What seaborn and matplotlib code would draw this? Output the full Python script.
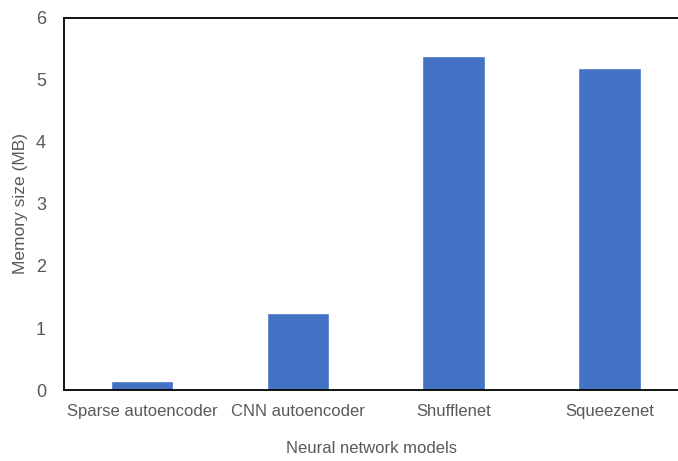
import numpy as np
import pandas as pd
import matplotlib
matplotlib.use("Agg")
import matplotlib.pyplot as plt
import seaborn as sns

MODELS = ["Sparse autoencoder", "CNN autoencoder", "Shufflenet", "Squeezenet"]
MEMORY_MB = [0.15, 1.24, 5.39, 5.19]
YTICKS = [0, 1, 2, 3, 4, 5, 6]

df = pd.DataFrame({"model": MODELS, "memory": MEMORY_MB})

sns.set_theme(style="white")
plt.rcParams["font.family"] = ["Liberation Sans", "DejaVu Sans"]

fig = plt.figure(figsize=(6.78, 4.61), dpi=100)
ax = fig.add_axes([0.0944, 0.154, 0.9056, 0.807])

sns.barplot(data=df, x="model", y="memory", color="#4472C4", width=0.4,
            saturation=1, ax=ax)

ax.set_xlim(-0.5, 3.44)
ax.set_ylim(0, 6)
ax.set_yticks(YTICKS)
ax.tick_params(axis="x", labelsize=12, labelcolor="#595959", length=0, pad=10)
ax.tick_params(axis="y", labelsize=13, labelcolor="#595959", length=0, pad=13)
ax.set_xlabel("Neural network models", fontsize=12, color="#595959", labelpad=16)
ax.set_ylabel("Memory size (MB)", fontsize=12.5, color="#595959")
ax.yaxis.set_label_coords(-0.058, 0.5)

for side in ["left", "top", "bottom"]:
    ax.spines[side].set_visible(True)
    ax.spines[side].set_color("black")
    ax.spines[side].set_linewidth(1.3)
ax.spines["right"].set_visible(False)

fig.savefig("out.png", dpi=100)
